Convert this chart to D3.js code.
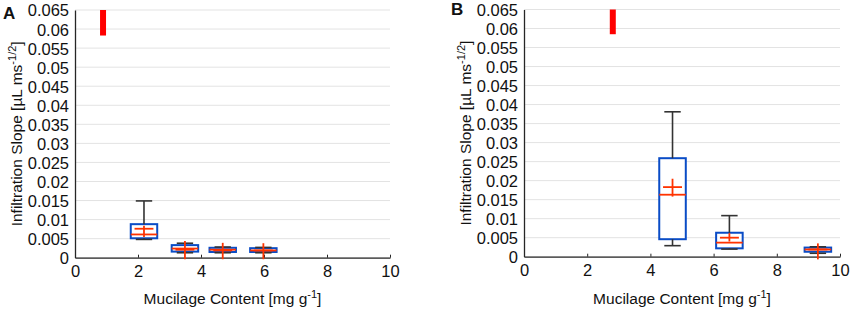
<!DOCTYPE html>
<html>
<head>
<meta charset="utf-8">
<script src="https://cdn.jsdelivr.net/npm/d3@7"></script>
<style>
  body { margin: 0; background: #fff; }
  svg { display: block; font-family: "Liberation Sans", Arial, sans-serif; }
</style>
</head>
<body>
<svg id="chart" width="851" height="311"></svg>
<script>
// axis ticks
const xTicks = [0, 2, 4, 6, 8, 10];
const yTicks = [0, 0.005, 0.01, 0.015, 0.02, 0.025, 0.03, 0.035, 0.04, 0.045, 0.05, 0.055, 0.06, 0.065];

// panel A boxes (mucilage content, mg/g)
const aContent  = [2.19, 3.49, 4.69, 5.98];
const aWhiskLo  = [0.0048, 0.0013, 0.0013, 0.0013];
const aQ1       = [0.0051, 0.0016, 0.0015, 0.0015];
const aMedian   = [0.0061, 0.0024, 0.0021, 0.0019];
const aQ3       = [0.0088, 0.0033, 0.0026, 0.0025];
const aWhiskHi  = [0.0149, 0.0038, 0.0028, 0.0027];
const aMean     = [0.0076, 0.0021, 0.0019, 0.0019];
const aErrLo    = [0.0054, -0.0004, -0.0004, -0.0004];
const aErrHi    = [0.0084, 0.0044, 0.0039, 0.0038];
const aMarker   = [0.89, 0.0583, 0.065];

// panel B boxes
const bContent  = [4.70, 6.50, 9.30];
const bWhiskLo  = [0.0029, 0.0020, 0.0009];
const bQ1       = [0.0046, 0.0022, 0.0013];
const bMedian   = [0.0163, 0.0037, 0.0019];
const bQ3       = [0.0259, 0.0063, 0.0024];
const bWhiskHi  = [0.0381, 0.0108, 0.0026];
const bMean     = [0.0183, 0.0050, 0.0019];
const bErrLo    = [0.0158, 0.0040, -0.0007];
const bErrHi    = [0.0205, 0.0062, 0.0035];
const bMarker   = [2.81, 0.0585, 0.065];

const svg = d3.select("#chart");

function drawPanel(cfg) {
  const x = d3.scaleLinear().domain([0, 10]).range([cfg.left, cfg.right]);
  const y = d3.scaleLinear().domain([0, 0.065]).range([cfg.bottom, cfg.top]);
  const g = svg.append("g");

  // gridlines
  g.selectAll(".grid").data(yTicks).enter().append("line")
    .attr("x1", cfg.left).attr("x2", cfg.right)
    .attr("y1", d => y(d)).attr("y2", d => y(d))
    .attr("stroke", "#e3e3e3").attr("stroke-width", 1);

  // axes
  const xAxis = d3.axisBottom(x).tickValues(xTicks).tickSize(-3).tickSizeOuter(0).tickPadding(8).tickFormat(d3.format("d"));
  const yAxis = d3.axisLeft(y).tickValues(yTicks).tickSize(0).tickSizeOuter(0).tickPadding(6)
    .tickFormat(d => d === 0 ? "0" : String(+d.toFixed(3)));

  const xg = g.append("g").attr("transform", `translate(0,${cfg.bottom})`).call(xAxis);
  const yg = g.append("g").attr("transform", `translate(${cfg.left},0)`).call(yAxis);
  [xg, yg].forEach(a => {
    a.select(".domain").attr("stroke", "#262626").attr("stroke-width", 1.3);
    a.selectAll(".tick line").attr("stroke", "#262626");
    a.selectAll("text").attr("fill", "#111").style("font-size", "16.5px").style("font-family", "Liberation Sans, Arial, sans-serif");
  });
  xg.selectAll("text").attr("dy", "0.71em");
  yg.selectAll("text").attr("dy", "0.36em");

  // top marker
  g.append("line")
    .attr("x1", x(cfg.marker[0])).attr("x2", x(cfg.marker[0]))
    .attr("y1", y(cfg.marker[1])).attr("y2", y(cfg.marker[2]))
    .attr("stroke", "#ff0000").attr("stroke-width", 6);

  const boxes = cfg.content.map((c, i) => ({
    c, wlo: cfg.wlo[i], q1: cfg.q1[i], med: cfg.med[i], q3: cfg.q3[i], whi: cfg.whi[i],
    mean: cfg.mean[i], elo: cfg.elo[i], ehi: cfg.ehi[i]
  }));
  const boxHalf = 0.42, capHalf = 0.26, crossHalf = 0.3;

  const bg = g.selectAll(".box").data(boxes).enter().append("g");
  // box
  bg.append("rect")
    .attr("x", d => x(d.c - boxHalf)).attr("width", d => x(d.c + boxHalf) - x(d.c - boxHalf))
    .attr("y", d => y(d.q3)).attr("height", d => y(d.q1) - y(d.q3))
    .attr("fill", "#fff")
    .attr("stroke", "#0a4cc6").attr("stroke-width", 2);
  // whisker stems
  bg.append("line")
    .attr("x1", d => x(d.c)).attr("x2", d => x(d.c))
    .attr("y1", d => y(d.q3)).attr("y2", d => y(d.whi))
    .attr("stroke", "#333").attr("stroke-width", 1.6);
  bg.append("line")
    .attr("x1", d => x(d.c)).attr("x2", d => x(d.c))
    .attr("y1", d => y(d.q1)).attr("y2", d => y(d.wlo))
    .attr("stroke", "#333").attr("stroke-width", 1.6);
  // caps
  ["wlo", "whi"].forEach(k => {
    bg.append("line")
      .attr("x1", d => x(d.c - capHalf)).attr("x2", d => x(d.c + capHalf))
      .attr("y1", d => y(d[k])).attr("y2", d => y(d[k]))
      .attr("stroke", "#333").attr("stroke-width", 1.6);
  });
  // median
  bg.append("line")
    .attr("x1", d => x(d.c - boxHalf)).attr("x2", d => x(d.c + boxHalf))
    .attr("y1", d => y(d.med)).attr("y2", d => y(d.med))
    .attr("stroke", "#ff3300").attr("stroke-width", 1.8);
  // mean cross
  bg.append("line")
    .attr("x1", d => x(d.c - crossHalf)).attr("x2", d => x(d.c + crossHalf))
    .attr("y1", d => y(d.mean)).attr("y2", d => y(d.mean))
    .attr("stroke", "#ff3300").attr("stroke-width", 1.8);
  bg.append("line")
    .attr("x1", d => x(d.c)).attr("x2", d => x(d.c))
    .attr("y1", d => y(d.elo)).attr("y2", d => y(d.ehi))
    .attr("stroke", "#ff3300").attr("stroke-width", 1.8);

  // panel letter
  g.append("text").attr("x", cfg.letterX).attr("y", cfg.letterY)
    .style("font-size", "17px").style("font-weight", "bold").attr("fill", "#111").text(cfg.letter);

  // x label
  const xl = g.append("text").attr("x", (cfg.left + cfg.right) / 2).attr("y", 304)
    .attr("text-anchor", "middle").style("font-size", "15.5px").attr("fill", "#111");
  xl.append("tspan").text("Mucilage Content [mg g");
  xl.append("tspan").attr("dy", -6).style("font-size", "11px").text("-1");
  xl.append("tspan").attr("dy", 6).text("]");

  // y label
  const yl = g.append("text")
    .attr("transform", `translate(${cfg.left - 53.5},${(cfg.top + cfg.bottom) / 2}) rotate(-90)`)
    .attr("text-anchor", "middle").style("font-size", "15.5px").attr("fill", "#111");
  yl.append("tspan").text("Infiltration Slope [µL ms");
  yl.append("tspan").attr("dy", -6).style("font-size", "11px").text("-1/2");
  yl.append("tspan").attr("dy", 6).text("]");
}

drawPanel({
  left: 75, right: 390, top: 10, bottom: 257.7, letter: "A", letterX: 3, letterY: 19,
  content: aContent, wlo: aWhiskLo, q1: aQ1, med: aMedian, q3: aQ3, whi: aWhiskHi,
  mean: aMean, elo: aErrLo, ehi: aErrHi, marker: aMarker
});
drawPanel({
  left: 524, right: 840, top: 9.5, bottom: 256.7, letter: "B", letterX: 451, letterY: 15,
  content: bContent, wlo: bWhiskLo, q1: bQ1, med: bMedian, q3: bQ3, whi: bWhiskHi,
  mean: bMean, elo: bErrLo, ehi: bErrHi, marker: bMarker
});
</script>
</body>
</html>
